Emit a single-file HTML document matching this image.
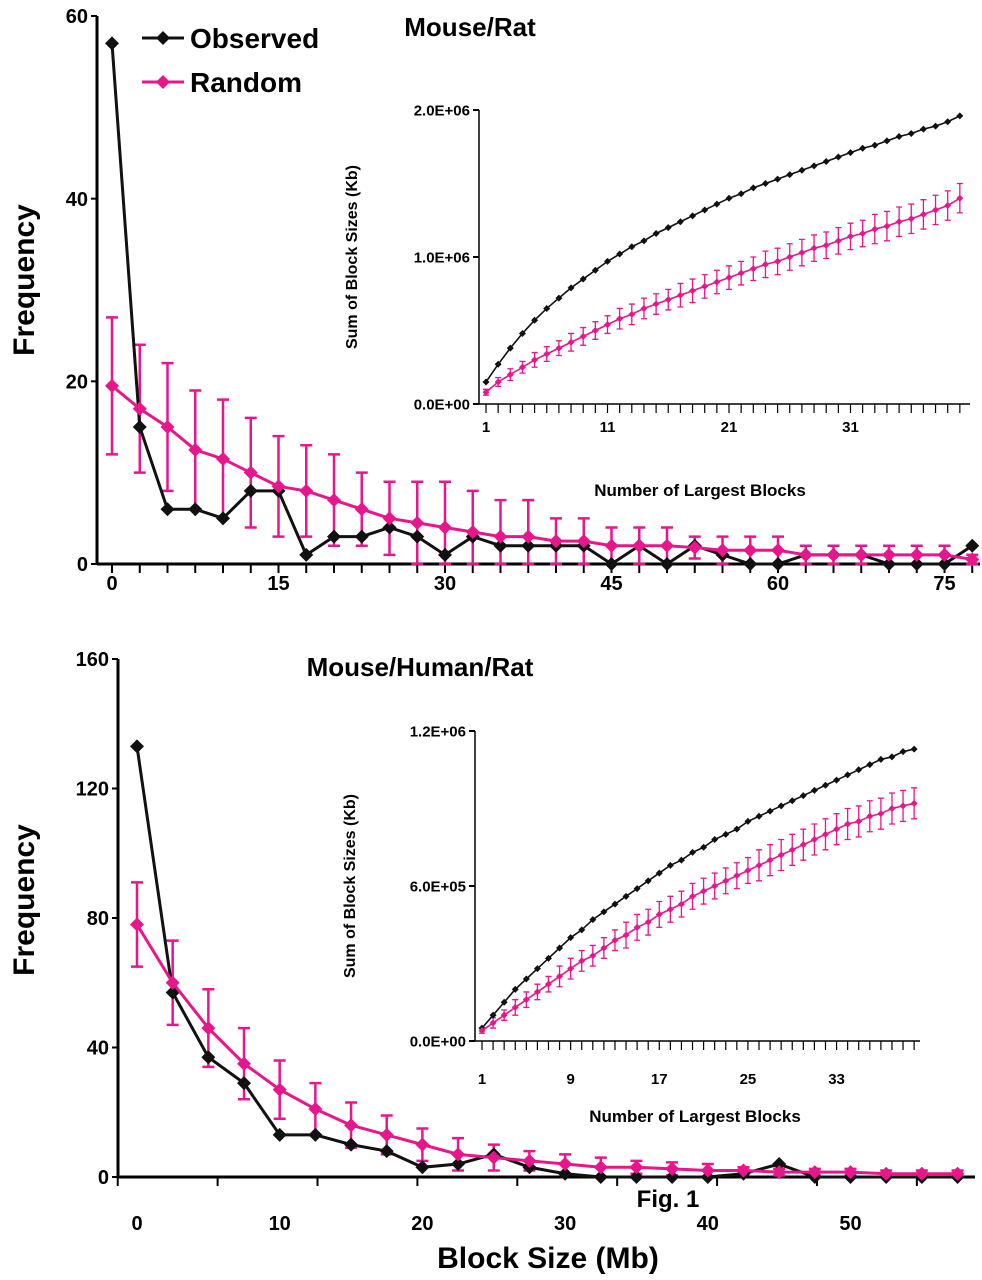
<!DOCTYPE html>
<html><head><meta charset="utf-8"><style>
body{margin:0;background:#fff}
svg{display:block;font-family:"Liberation Sans",sans-serif;font-weight:bold}
</style></head><body>
<svg id="fig" width="982" height="1280" viewBox="0 0 982 1280" xmlns="http://www.w3.org/2000/svg"></svg>
<script>
// ---- data: top main chart (Mouse/Rat) ----
const topSizes = [0,2.5,5,7.5,10,12.5,15,17.5,20,22.5,25,27.5,30,32.5,35,37.5,40,42.5,45,47.5,50,52.5,55,57.5,60,62.5,65,67.5,70,72.5,75,77.5];
const topObserved = [57,15,6,6,5,8,8,1,3,3,4,3,1,3,2,2,2,2,0,2,0,2,1,0,0,1,1,1,0,0,0,2];
const topRandom = [19.5,17,15,12.5,11.5,10,8.5,8,7,6,5,4.5,4,3.5,3,3,2.5,2.5,2,2,2,1.8,1.5,1.5,1.5,1,1,1,1,1,1,0.5];
const topRandomErr = [7.5,7,7,6.5,6.5,6,5.5,5,5,4,4,4.5,5,4.5,4,4,2.5,2.5,2,2,2,1.2,1.5,1.5,1.5,1,1,1,1,1,1,0.5];
const topYTicks = [0,20,40,60];
const topXTicks = [0,15,30,45,60,75];
// ---- top inset ----
const insetRanks = [1,2,3,4,5,6,7,8,9,10,11,12,13,14,15,16,17,18,19,20,21,22,23,24,25,26,27,28,29,30,31,32,33,34,35,36,37,38,39,40];
const topInsetObs = [0.15,0.27,0.38,0.48,0.57,0.65,0.72,0.79,0.85,0.91,0.97,1.02,1.07,1.11,1.16,1.20,1.24,1.28,1.32,1.36,1.40,1.43,1.47,1.50,1.53,1.56,1.59,1.62,1.65,1.68,1.71,1.74,1.76,1.79,1.82,1.84,1.87,1.89,1.92,1.96];
const topInsetRand = [0.08,0.15,0.20,0.25,0.30,0.34,0.38,0.42,0.46,0.50,0.54,0.58,0.61,0.65,0.68,0.71,0.74,0.77,0.80,0.83,0.86,0.89,0.92,0.95,0.97,1.00,1.03,1.06,1.08,1.11,1.14,1.16,1.19,1.21,1.24,1.26,1.29,1.32,1.35,1.40];
const topInsetErr = [0.02,0.03,0.04,0.04,0.05,0.05,0.05,0.06,0.06,0.06,0.06,0.07,0.07,0.07,0.07,0.07,0.08,0.08,0.08,0.08,0.08,0.08,0.08,0.09,0.09,0.09,0.09,0.09,0.09,0.09,0.09,0.09,0.1,0.1,0.1,0.1,0.1,0.1,0.1,0.1];
const topInsetYTicks = ["0.0E+00","1.0E+06","2.0E+06"];
const topInsetXTicks = [1,11,21,31];
// ---- bottom main chart (Mouse/Human/Rat) ----
const botSizes = [0,2.5,5,7.5,10,12.5,15,17.5,20,22.5,25,27.5,30,32.5,35,37.5,40,42.5,45,47.5,50,52.5,55,57.5];
const botObserved = [133,57,37,29,13,13,10,8,3,4,7,3,1,0,0,0,0,1,4,0,0,0,0,0];
const botRandom = [78,60,46,35,27,21,16,13,10,7,6,5,4,3,3,2.5,2,2,1.5,1.5,1.5,1,1,1];
const botRandomErr = [13,13,12,11,9,8,7,6,5,5,4,3,3,3,2,2,2,1,1,1,1,1,1,1];
const botYTicks = [0,40,80,120,160];
const botXTicks = [0,10,20,30,40,50];
// ---- bottom inset ----
const botInsetObs = [0.05,0.10,0.15,0.20,0.24,0.28,0.32,0.36,0.40,0.43,0.47,0.50,0.53,0.56,0.59,0.62,0.65,0.68,0.70,0.73,0.75,0.78,0.80,0.82,0.85,0.87,0.89,0.91,0.93,0.95,0.97,0.99,1.01,1.03,1.05,1.07,1.09,1.10,1.12,1.13];
const botInsetRand = [0.04,0.07,0.10,0.13,0.16,0.19,0.22,0.25,0.28,0.31,0.33,0.36,0.39,0.41,0.44,0.46,0.49,0.51,0.53,0.56,0.58,0.60,0.62,0.64,0.66,0.68,0.70,0.72,0.74,0.76,0.78,0.80,0.82,0.84,0.85,0.87,0.88,0.90,0.91,0.92];
const botInsetErr = [0.01,0.02,0.02,0.03,0.03,0.03,0.03,0.04,0.04,0.04,0.04,0.04,0.04,0.05,0.05,0.05,0.05,0.05,0.05,0.05,0.05,0.05,0.05,0.05,0.05,0.06,0.06,0.06,0.06,0.06,0.06,0.06,0.06,0.06,0.06,0.06,0.06,0.06,0.06,0.06];
const botInsetYTicks = ["0.0E+00","6.0E+05","1.2E+06"];
const botInsetXTicks = [1,9,17,25,33];

const NS="http://www.w3.org/2000/svg";
const svg=document.getElementById('fig');
const PINK="#e8168c";
function mk(tag,attrs,parent){const e=document.createElementNS(NS,tag);for(const k in attrs)e.setAttribute(k,attrs[k]);(parent||svg).appendChild(e);return e;}
function txt(s,x,y,size,anchor,parent,rot){const t=mk('text',{x:x,y:y,'font-size':size,'text-anchor':anchor||'middle'},parent);if(rot)t.setAttribute('transform',`rotate(-90 ${x} ${y})`);t.textContent=s;return t;}
function diamond(g,x,y,r,fill){return mk('path',{d:`M${x} ${y-r}L${x+r} ${y}L${x} ${y+r}L${x-r} ${y}Z`,fill:fill},g);}

function chart(o){
  const g=mk('g',{});
  
  
  const sx=v=>o.x0+(v-o.xmin)*o.kx, sy=v=>o.y0-v*o.ky;
  // axes
  mk('line',{x1:o.ax,y1:o.ytop,x2:o.ax,y2:o.y0,stroke:'#000','stroke-width':o.aw},g);
  mk('line',{x1:o.ax,y1:o.y0,x2:o.xend,y2:o.y0,stroke:'#000','stroke-width':o.aw},g);
  o.yt.forEach((v,i)=>{const val=o.ytv?o.ytv[i]:v;const y=sy(val);mk('line',{x1:o.ax-6,y1:y,x2:o.ax,y2:y,stroke:'#000','stroke-width':2},g);
    const t=txt(String(v),o.ax-9,y+o.fs*0.36,o.fs,'end',g);});
  o.tickVals.forEach(v=>{mk('line',{x1:sx(v),y1:o.y0,x2:sx(v),y2:o.y0+o.tl,stroke:'#000','stroke-width':o.aw>2?2:1.2},g);});
  o.xt.forEach(v=>{const t=txt(String(v),sx(v),o.xly,o.fs,'middle',g);});
  // random with error bars
  o.rand.forEach((v,i)=>{const x=sx(o.xs[i]);const e=o.err[i];
    const eb=mk('path',{d:`M${x} ${sy(v+e)}V${sy(Math.max(0,v-e))}M${x-o.cap} ${sy(v+e)}h${2*o.cap}M${x-o.cap} ${sy(Math.max(0,v-e))}h${2*o.cap}`,stroke:PINK,'stroke-width':o.ew,fill:'none'},g);
    });
  const lines=[[o.obs,'#111',o.oFirst?1:0],[o.rand,PINK,o.oFirst?0:1]];
  const order=o.oFirst?[lines[1],lines[0]]:[lines[0],lines[1]];
  order.forEach(([arr,c])=>{
    const p=mk('polyline',{points:arr.map((v,i)=>sx(o.xs[i])+','+sy(v)).join(' '),fill:'none',stroke:c,'stroke-width':o.lw},g);
    
    arr.forEach((v,i)=>{const d=diamond(g,sx(o.xs[i]),sy(v),o.mr,c);});
  });
  return g;
}

// top main
chart({name:'mouse-rat-chart',ax:97,ytop:16,y0:564,xend:980,x0:112,xmin:0,kx:11.1,ky:548/60,aw:3,
  yt:topYTicks,xt:topXTicks,tickVals:topSizes,tl:9,xly:590,fs:20,xs:topSizes,obs:topObserved,rand:topRandom,err:topRandomErr,
  cap:6,ew:2.5,lw:3,mr:7});
// top inset
chart({name:'mouse-rat-inset',ax:479,ytop:110,y0:404,xend:970,x0:486,xmin:1,kx:12.15,ky:294/2,aw:1.5,
  yt:topInsetYTicks,ytv:[0,1,2],xt:topInsetXTicks,tickVals:insetRanks,tl:9,xly:432,fs:15,xs:insetRanks,obs:topInsetObs,rand:topInsetRand,err:topInsetErr,
  cap:3,ew:1.3,lw:1.6,mr:3.5});
// bottom main
chart({name:'mouse-human-rat-chart',ax:118,ytop:659,y0:1177,xend:975,x0:137,xmin:0,kx:14.27,ky:518/160,aw:3,
  yt:botYTicks,xt:botXTicks,tickVals:[-1.35,5.65,12.65,19.65,26.65,33.65,40.65,47.65,54.65],tl:9,xly:1230,fs:20,xs:botSizes,obs:botObserved,rand:botRandom,err:botRandomErr,
  cap:6,ew:2.5,lw:3,mr:7});
// bottom inset
chart({name:'mouse-human-rat-inset',ax:475,ytop:731,y0:1041,xend:920,x0:482,xmin:1,kx:11.08,ky:310/1.2,aw:1.5,
  yt:botInsetYTicks,ytv:[0,0.6,1.2],xt:botInsetXTicks,tickVals:insetRanks,tl:9,xly:1084,fs:15,xs:insetRanks,obs:botInsetObs,rand:botInsetRand,err:botInsetErr,
  cap:3,ew:1.3,lw:1.6,mr:3.5});

// texts
let t;
t=txt('Mouse/Rat',470,36,26,'middle');
t=txt('Mouse/Human/Rat',420,676,26,'middle');
t=txt('Frequency',34,280,30,'middle',null,true);
t=txt('Frequency',34,900,30,'middle',null,true);
t=txt('Sum of Block Sizes (Kb)',357,257,16,'middle',null,true);
t=txt('Sum of  Block Sizes (Kb)',355,886,16,'middle',null,true);
t=txt('Number of Largest Blocks',700,496,17,'middle');
t=txt('Number of Largest Blocks',695,1122,17,'middle');
t=txt('Block Size (Mb)',548,1268,30,'middle');
t=txt('Fig. 1',668,1207,24,'middle');
// legend
const lg=mk('g',{});


[['Observed','#111',38],['Random',PINK,82]].forEach(([s,c,y])=>{
  mk('line',{x1:142,y1:y,x2:184,y2:y,stroke:c,'stroke-width':3},lg);
  diamond(lg,163,y,7,c);
  const tt=txt(s,190,y+10,28,'start',lg);
});
</script>
</body></html>
